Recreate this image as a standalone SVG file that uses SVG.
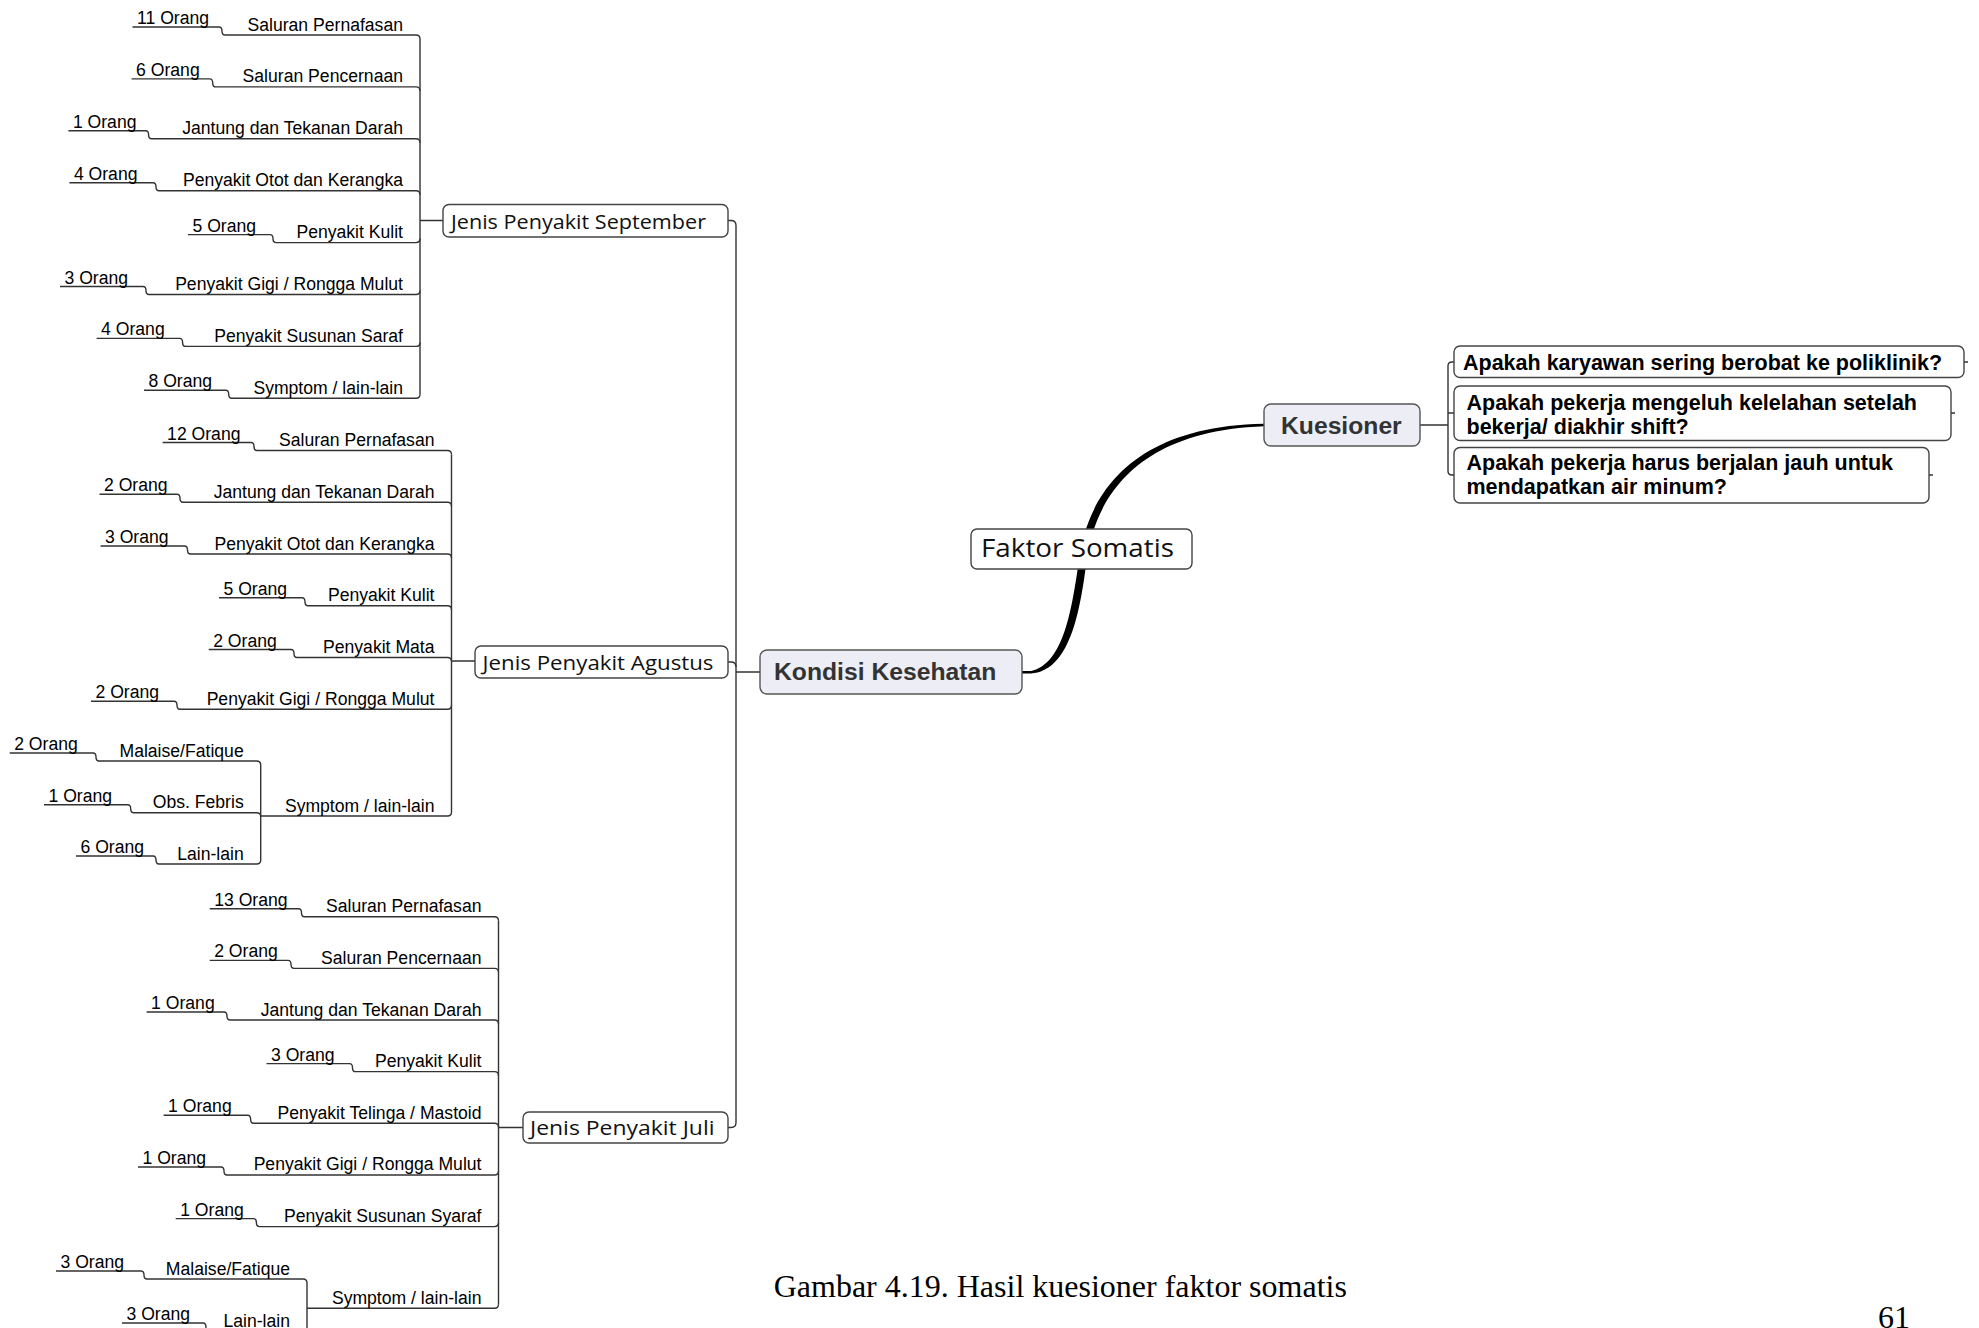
<svg xmlns="http://www.w3.org/2000/svg" width="1979" height="1328" viewBox="0 0 1979 1328">
<style>
.ln{fill:none;stroke:#333;stroke-width:1.4}
.cnt{font-family:"Liberation Sans",Arial,sans-serif;font-size:17.6px;fill:#000}
.lbl{font-family:"Liberation Sans",Arial,sans-serif;font-size:17.6px;fill:#000;text-anchor:end}
.box{fill:#fff;stroke:#444;stroke-width:1.4}
.main{fill:#ededf5;stroke:#555;stroke-width:1.4}
.jen{font-family:"Open Sans","Noto Sans",sans-serif;font-size:20px;fill:#111}
.mt{font-family:"Liberation Sans",Arial,sans-serif;font-size:24.7px;font-weight:bold;fill:#333}
.q{font-family:"Liberation Sans",Arial,sans-serif;font-size:21.5px;font-weight:bold;fill:#000}
.cap{font-family:"Liberation Serif","Times New Roman",serif;font-size:32px;fill:#000}
</style>
<rect width="1979" height="1328" fill="#fff"/>
<g id="connectors">
<!-- September -->
<path class="ln" d="M132.5,27 H219 Q222,27 222,31 Q222,35 225,35 H416 Q420,35 420,39"/>
<path class="ln" d="M131.6,78.9 H209.7 Q212.7,78.9 212.7,82.9 Q212.7,86.9 215.7,86.9 H416 Q420,86.9 420,90.9"/>
<path class="ln" d="M68.4,130.8 H145.6 Q148.6,130.8 148.6,134.8 Q148.6,138.8 151.6,138.8 H416 Q420,138.8 420,142.8"/>
<path class="ln" d="M69.4,182.7 H153 Q156,182.7 156,186.7 Q156,190.7 159,190.7 H416 Q420,190.7 420,194.7"/>
<path class="ln" d="M188,234.6 H270 Q273,234.6 273,238.6 Q273,242.6 276,242.6 H416 Q420,242.6 420,238.6"/>
<path class="ln" d="M60,286.5 H143 Q146,286.5 146,290.5 Q146,294.5 149,294.5 H416 Q420,294.5 420,290.5"/>
<path class="ln" d="M96.6,338.4 H179.6 Q182.6,338.4 182.6,342.4 Q182.6,346.4 185.6,346.4 H416 Q420,346.4 420,342.4"/>
<path class="ln" d="M144,390.3 H225.7 Q228.7,390.3 228.7,394.3 Q228.7,398.3 231.7,398.3 H416 Q420,398.3 420,394.3"/>
<path class="ln" d="M420,39 V394.3 M420,220.5 H443"/>
<!-- Agustus -->
<path class="ln" d="M162.6,442.5 H251 Q254,442.5 254,446.5 Q254,450.5 257,450.5 H447.5 Q451.5,450.5 451.5,454.5"/>
<path class="ln" d="M99.5,494.3 H177 Q180,494.3 180,498.3 Q180,502.3 183,502.3 H447.5 Q451.5,502.3 451.5,506.3"/>
<path class="ln" d="M100.5,546 H184.5 Q187.5,546 187.5,550 Q187.5,554 190.5,554 H447.5 Q451.5,554 451.5,558"/>
<path class="ln" d="M219,597.8 H302 Q305,597.8 305,601.8 Q305,605.8 308,605.8 H447.5 Q451.5,605.8 451.5,609.8"/>
<path class="ln" d="M208.7,649.5 H291 Q294,649.5 294,653.5 Q294,657.5 297,657.5 H447.5 Q451.5,657.5 451.5,661.5"/>
<path class="ln" d="M91,701.3 H174 Q177,701.3 177,705.3 Q177,709.3 180,709.3 H447.5 Q451.5,709.3 451.5,705.3"/>
<path class="ln" d="M260.7,816 H447.5 Q451.5,816 451.5,812"/>
<path class="ln" d="M451.5,454.5 V812 M451.5,661 H475"/>
<path class="ln" d="M9.7,753 H93 Q96,753 96,757 Q96,761 99,761 H256.7 Q260.7,761 260.7,765"/>
<path class="ln" d="M44,804.7 H127.7 Q130.7,804.7 130.7,808.7 Q130.7,812.7 133.7,812.7 H256.7 Q260.7,812.7 260.7,816.7"/>
<path class="ln" d="M76,856 H153 Q156,856 156,860 Q156,864 159,864 H256.7 Q260.7,864 260.7,860"/>
<path class="ln" d="M260.7,765 V860"/>
<!-- Juli -->
<path class="ln" d="M209.7,908.7 H298.5 Q301.5,908.7 301.5,912.7 Q301.5,916.7 304.5,916.7 H494.5 Q498.5,916.7 498.5,920.7"/>
<path class="ln" d="M209.7,960.35 H288 Q291,960.35 291,964.35 Q291,968.35 294,968.35 H494.5 Q498.5,968.35 498.5,972.35"/>
<path class="ln" d="M146.6,1012 H224 Q227,1012 227,1016 Q227,1020 230,1020 H494.5 Q498.5,1020 498.5,1024"/>
<path class="ln" d="M266.5,1063.65 H349.5 Q352.5,1063.65 352.5,1067.65 Q352.5,1071.65 355.5,1071.65 H494.5 Q498.5,1071.65 498.5,1075.65"/>
<path class="ln" d="M163.6,1115.3 H247.6 Q250.6,1115.3 250.6,1119.3 Q250.6,1123.3 253.6,1123.3 H494.5 Q498.5,1123.3 498.5,1127.3"/>
<path class="ln" d="M138,1166.95 H221 Q224,1166.95 224,1170.95 Q224,1174.95 227,1174.95 H494.5 Q498.5,1174.95 498.5,1170.95"/>
<path class="ln" d="M175.7,1218.6 H253.4 Q256.4,1218.6 256.4,1222.6 Q256.4,1226.6 259.4,1226.6 H494.5 Q498.5,1226.6 498.5,1222.6"/>
<path class="ln" d="M307,1308.3 H494.5 Q498.5,1308.3 498.5,1304.3"/>
<path class="ln" d="M498.5,920.7 V1304.3 M498.5,1127.5 H523"/>
<path class="ln" d="M56,1271 H141 Q144,1271 144,1275 Q144,1279 147,1279 H303 Q307,1279 307,1283"/>
<path class="ln" d="M122,1323 H203 Q206,1323 206,1327 Q206,1331 209,1331 H303 Q307,1331 307,1327"/>
<path class="ln" d="M307,1283 V1327"/>
<!-- main trunk -->
<path class="ln" d="M728,220.5 H731 Q736,220.5 736,225.5 V1122.5 Q736,1127.5 731,1127.5 H728"/>
<path class="ln" d="M728,662 H731 Q736,662 736,667 M736,672 H760"/>
<!-- thick curve -->
<path fill="#000" d="M1022,671 L1031,671 C1064,664 1072,608 1079,560 C1087,499 1128,426 1264,423.8 L1264,426.2 C1133,431 1095,501 1086.5,561 C1080,614 1069,671 1031,673.5 L1022,673.5 Z"/>
<!-- kuesioner -->
<path class="ln" d="M1420,425 H1448 M1454,362 H1452 Q1448,362 1448,366 V471 Q1448,475 1452,475 H1454 M1448,413 H1454"/>
<path class="ln" d="M1964,362 h4 M1951,413 h4 M1929,475 h4"/>
</g>
<g id="sep-leaves">
<text class="cnt" x="137" y="24">11 Orang</text><text class="lbl" x="403" y="30.5">Saluran Pernafasan</text>
<text class="cnt" x="136.1" y="75.9">6 Orang</text><text class="lbl" x="403" y="82.4">Saluran Pencernaan</text>
<text class="cnt" x="72.9" y="127.8">1 Orang</text><text class="lbl" x="403" y="134.3">Jantung dan Tekanan Darah</text>
<text class="cnt" x="73.9" y="179.7">4 Orang</text><text class="lbl" x="403" y="186.2">Penyakit Otot dan Kerangka</text>
<text class="cnt" x="192.5" y="231.6">5 Orang</text><text class="lbl" x="403" y="238.1">Penyakit Kulit</text>
<text class="cnt" x="64.5" y="283.5">3 Orang</text><text class="lbl" x="403" y="290">Penyakit Gigi / Rongga Mulut</text>
<text class="cnt" x="101.1" y="335.4">4 Orang</text><text class="lbl" x="403" y="341.9">Penyakit Susunan Saraf</text>
<text class="cnt" x="148.5" y="387.3">8 Orang</text><text class="lbl" x="403" y="393.8">Symptom / lain-lain</text>
</g>
<g id="agu-leaves">
<text class="cnt" x="167.1" y="439.5">12 Orang</text><text class="lbl" x="434.5" y="446">Saluran Pernafasan</text>
<text class="cnt" x="104" y="491.3">2 Orang</text><text class="lbl" x="434.5" y="497.8">Jantung dan Tekanan Darah</text>
<text class="cnt" x="105" y="543">3 Orang</text><text class="lbl" x="434.5" y="549.5">Penyakit Otot dan Kerangka</text>
<text class="cnt" x="223.5" y="594.8">5 Orang</text><text class="lbl" x="434.5" y="601.3">Penyakit Kulit</text>
<text class="cnt" x="213.2" y="646.5">2 Orang</text><text class="lbl" x="434.5" y="653">Penyakit Mata</text>
<text class="cnt" x="95.5" y="698.3">2 Orang</text><text class="lbl" x="434.5" y="704.8">Penyakit Gigi / Rongga Mulut</text>
<text class="lbl" x="434.5" y="811.5">Symptom / lain-lain</text>
<text class="cnt" x="14.2" y="750">2 Orang</text><text class="lbl" x="243.7" y="756.5">Malaise/Fatique</text>
<text class="cnt" x="48.5" y="801.7">1 Orang</text><text class="lbl" x="243.7" y="808.2">Obs. Febris</text>
<text class="cnt" x="80.5" y="853">6 Orang</text><text class="lbl" x="243.7" y="859.5">Lain-lain</text>
</g>
<g id="jul-leaves">
<text class="cnt" x="214.2" y="905.7">13 Orang</text><text class="lbl" x="481.5" y="912.2">Saluran Pernafasan</text>
<text class="cnt" x="214.2" y="957.35">2 Orang</text><text class="lbl" x="481.5" y="963.85">Saluran Pencernaan</text>
<text class="cnt" x="151.1" y="1009">1 Orang</text><text class="lbl" x="481.5" y="1015.5">Jantung dan Tekanan Darah</text>
<text class="cnt" x="271" y="1060.65">3 Orang</text><text class="lbl" x="481.5" y="1067.15">Penyakit Kulit</text>
<text class="cnt" x="168.1" y="1112.3">1 Orang</text><text class="lbl" x="481.5" y="1118.8">Penyakit Telinga / Mastoid</text>
<text class="cnt" x="142.5" y="1163.95">1 Orang</text><text class="lbl" x="481.5" y="1170.45">Penyakit Gigi / Rongga Mulut</text>
<text class="cnt" x="180.2" y="1215.6">1 Orang</text><text class="lbl" x="481.5" y="1222.1">Penyakit Susunan Syaraf</text>
<text class="lbl" x="481.5" y="1303.8">Symptom / lain-lain</text>
<text class="cnt" x="60.5" y="1268">3 Orang</text><text class="lbl" x="290" y="1274.5">Malaise/Fatique</text>
<text class="cnt" x="126.5" y="1320">3 Orang</text><text class="lbl" x="290" y="1326.5">Lain-lain</text>
</g>
<g id="jenis-september">
<rect class="box" x="443" y="204.5" width="285" height="32.5" rx="6"/>
<text class="jen" x="451" y="228.5" textLength="255" lengthAdjust="spacingAndGlyphs">Jenis Penyakit September</text>
</g>
<g id="jenis-agustus">
<rect class="box" x="475" y="646" width="253" height="32" rx="6"/>
<text class="jen" x="482.5" y="669.5" textLength="231" lengthAdjust="spacingAndGlyphs">Jenis Penyakit Agustus</text>
</g>
<g id="jenis-juli">
<rect class="box" x="523" y="1112" width="205" height="31" rx="6"/>
<text class="jen" x="530" y="1135" textLength="184.5" lengthAdjust="spacingAndGlyphs">Jenis Penyakit Juli</text>
</g>
<g id="kondisi">
<rect class="main" x="760" y="650" width="262" height="44" rx="7"/>
<text class="mt" x="774" y="680">Kondisi Kesehatan</text>
</g>
<g id="faktor">
<rect class="box" x="971" y="529" width="221" height="40" rx="6"/>
<text class="jen" x="981" y="557" style="font-size:26px" textLength="193" lengthAdjust="spacingAndGlyphs">Faktor Somatis</text>
</g>
<g id="kuesioner">
<rect class="main" x="1264" y="404" width="156" height="42" rx="7"/>
<text class="mt" x="1281" y="433.5">Kuesioner</text>
</g>
<g id="q1">
<rect class="box" x="1454" y="346" width="510" height="31.5" rx="6"/>
<text class="q" x="1463" y="369.5">Apakah karyawan sering berobat ke poliklinik?</text>
</g>
<g id="q2">
<rect class="box" x="1454" y="386" width="497" height="54.5" rx="6"/>
<text class="q" x="1466.5" y="410">Apakah pekerja mengeluh kelelahan setelah</text>
<text class="q" x="1466.5" y="433.5">bekerja/ diakhir shift?</text>
</g>
<g id="q3">
<rect class="box" x="1454" y="447.5" width="475" height="55.5" rx="6"/>
<text class="q" x="1466.5" y="470">Apakah pekerja harus berjalan jauh untuk</text>
<text class="q" x="1466.5" y="494">mendapatkan air minum?</text>
</g>
<g id="caption">
<text class="cap" x="773.7" y="1297">Gambar 4.19. Hasil kuesioner faktor somatis</text>
<text class="cap" x="1878" y="1327.5">61</text>
</g>
</svg>
